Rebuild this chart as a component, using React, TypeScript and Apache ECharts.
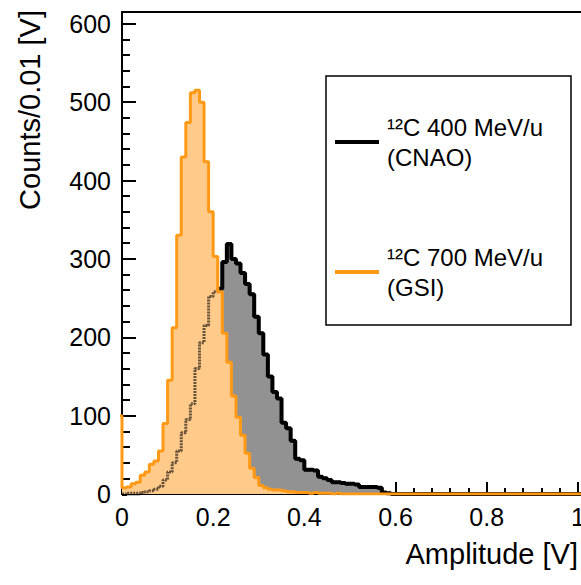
import React, { useEffect, useRef } from "react";
import * as echarts from "echarts";

// ---- data (histograms, bin width 0.01 V) ----
const BIN_WIDTH = 0.01;

// CNAO, 12C 400 MeV/u, bins starting at 0.00 V
const CNAO_FIRST_EDGE = 0;
const CNAO_COUNTS = [
  0, 1, 1, 1, 2, 3, 4, 6, 10, 18, // 0.00-0.09
  28, 40, 55, 78, 95, 115, 160, 193, 215, 252, // 0.10-0.19
  258, 262, 296, 319, 300, 294, 282, 268, 255, 226, // 0.20-0.29
  205, 178, 150, 130, 122, 91, 84, 68, 45, 43, // 0.30-0.39
  31, 31, 30, 22, 20, 18, 15, 15, 14, 13, // 0.40-0.49
  13, 12, 9, 9, 9, 9, 8, 2, 1, 0, // 0.50-0.59
  0, 0, 0, 0, 0, 0, 0, 0, 0, 0, // 0.60-0.69
  0, 0, 0, 0, 0, 0, 0, 0, 0, 0, // 0.70-0.79
  0, 0, 0, 0, 0, 0, 0, 0, 0, 0, // 0.80-0.89
  0, 0, 0, 0, 0, 0, 0, 0, 0, 0, // 0.90-0.99
  0, 0, 0, 0, 0, 0, 0, 0, 0, 0, // 1.00-1.09
  0, 0, 0, 0, 0, 0, 0, 0, 0, 0, // 1.10-1.19
];

// GSI, 12C 700 MeV/u, bins starting at -0.01 V
const GSI_FIRST_EDGE = -0.01;
const GSI_COUNTS = [
  100, // -0.01-0.00
  8, 9, 13, 15, 24, 28, 38, 42, 55, 90, // 0.00-0.09
  145, 212, 330, 430, 474, 512, 515, 500, 424, 360, // 0.10-0.19
  303, 258, 205, 168, 125, 98, 75, 52, 33, 21, // 0.20-0.29
  11, 8, 6, 5, 5, 4, 3, 3, 2, 2, // 0.30-0.39
  2, 1, 2, 1, 1, 1, 0, 1, 0, 0, // 0.40-0.49
  0, 0, 0, 0, 0, 0, 0, 0, 0, 0, // 0.50-0.59
  0, 0, 0, 0, 0, 0, 0, 0, 0, 0, // 0.60-0.69
  0, 0, 0, 0, 0, 0, 0, 0, 0, 0, // 0.70-0.79
  0, 0, 0, 0, 0, 0, 0, 0, 0, 0, // 0.80-0.89
  0, 0, 0, 0, 0, 0, 0, 0, 0, 0, // 0.90-0.99
  0, 0, 0, 0, 0, 0, 0, 0, 0, 0, // 1.00-1.09
  0, 0, 0, 0, 0, 0, 0, 0, 0, 0, // 1.10-1.19
];

const SERIES_NAMES = ["CNAO", "GSI"];
const CNAO_OVERLAY_NAME = "CNAO outline";
const GSI_FILL_NAME = "GSI fill";
const LEGEND_LABELS: Record<string, string> = {
  CNAO: "¹²C 400 MeV/u\n(CNAO)",
  GSI: "¹²C 700 MeV/u\n(GSI)",
};
const X_TITLE = "Amplitude [V]";
const Y_TITLE = "Counts/0.01 [V]";

const X_MIN = 0;
const X_MAX = 1.2;
const X_INTERVAL = 0.2;
const Y_MIN = 0;
const Y_MAX = 615;
const Y_INTERVAL = 100;
const Y_MINOR_INTERVAL = 20;

// ---- styles ----
const ORANGE = "#ff9916";
const ORANGE_FILL = "#ffca8a";
const GRAY_FILL = "#929292";
const FONT = "'Liberation Sans', Arial, Helvetica, sans-serif";

function toSteps(firstEdge: number, counts: number[]) {
  const pts = counts.map((c, i) => [
    Math.round((firstEdge + i * BIN_WIDTH) * 10000) / 10000,
    c,
  ]);
  pts.push([
    Math.round((firstEdge + counts.length * BIN_WIDTH) * 10000) / 10000,
    counts[counts.length - 1],
  ]);
  return pts;
}

export default function App() {
  const ref = useRef<HTMLDivElement>(null);

  useEffect(() => {
    if (!ref.current) return;
    const chart = echarts.init(ref.current, null, { renderer: "svg" });
    const cnaoData = toSteps(CNAO_FIRST_EDGE, CNAO_COUNTS);
    const gsiData = toSteps(GSI_FIRST_EDGE, GSI_COUNTS);

    const option: any = {
      animation: false,
      backgroundColor: "#ffffff",
      grid: {
        left: 122,
        top: 12,
        width: 547,
        height: 482,
        outerBoundsMode: "none",
        containLabel: false,
        show: true,
        borderColor: "#000",
        borderWidth: 2,
        backgroundColor: "transparent",
      },
      xAxis: {
        type: "value",
        min: X_MIN,
        max: X_MAX,
        interval: X_INTERVAL,
        position: "bottom",
        axisLine: { show: true, onZero: false, lineStyle: { color: "#000", width: 2 } },
        axisTick: { show: true, inside: true, length: 12, lineStyle: { color: "#000", width: 2 } },
        minorTick: { show: true, splitNumber: 5, length: 6, lineStyle: { color: "#000", width: 2 } },
        axisLabel: {
          fontSize: 25,
          fontFamily: FONT,
          color: "#000",
          margin: 10,
          formatter: (v: number) => String(Math.round(v * 100) / 100),
        },
        splitLine: { show: false },
        minorSplitLine: { show: false },
      },
      yAxis: [
        {
          type: "value",
          min: Y_MIN,
          max: Y_MAX,
          interval: Y_INTERVAL,
          position: "left",
          axisLine: { show: true, onZero: false, lineStyle: { color: "#000", width: 2 } },
          axisTick: { show: true, inside: true, length: 14, lineStyle: { color: "#000", width: 2 } },
          axisLabel: {
            fontSize: 25,
            fontFamily: FONT,
            color: "#000",
            margin: 11,
            showMaxLabel: false,
          },
          splitLine: { show: false },
        },
        {
          type: "value",
          min: Y_MIN,
          max: Y_MAX,
          interval: Y_MINOR_INTERVAL,
          position: "left",
          axisLine: { show: false },
          axisTick: { show: true, inside: true, length: 8, lineStyle: { color: "#000", width: 2 } },
          axisLabel: { show: false },
          splitLine: { show: false },
        },
      ],
      legend: {
        orient: "vertical",
        left: 335,
        top: 112,
        padding: 0,
        itemWidth: 44,
        itemHeight: 4,
        itemGap: 70,
        icon: "rect",
        selectedMode: false,
        data: SERIES_NAMES,
        formatter: (n: string) => LEGEND_LABELS[n],
        textStyle: {
          fontSize: 24,
          lineHeight: 30,
          fontFamily: FONT,
          color: "#000",
          padding: [0, 0, 0, 3],
        },
        z: 6,
      },
      graphic: [
        {
          type: "rect",
          z: 4,
          shape: { x: 326, y: 76, width: 245, height: 249 },
          style: { fill: "#fff", stroke: "#000", lineWidth: 1.5 },
        },
        {
          type: "text",
          x: 30,
          y: 10,
          rotation: Math.PI / 2,
          style: {
            text: Y_TITLE,
            fill: "#000",
            font: `29px ${FONT}`,
            align: "right",
            textAlign: "right",
            verticalAlign: "middle",
            textVerticalAlign: "middle",
          },
        },
        {
          type: "text",
          x: 578,
          y: 554,
          style: {
            text: X_TITLE,
            fill: "#000",
            font: `29px ${FONT}`,
            align: "right",
            textAlign: "right",
            verticalAlign: "middle",
            textVerticalAlign: "middle",
          },
        },
      ],
      series: [
        {
          // CNAO histogram: gray fill + solid black outline
          type: "line",
          name: SERIES_NAMES[0],
          data: cnaoData,
          step: "end",
          symbol: "none",
          color: "#000",
          lineStyle: { color: "#000", width: 4 },
          areaStyle: { color: GRAY_FILL, opacity: 1, origin: "start" },
          z: 2,
          silent: true,
        },
        {
          // GSI histogram fill (covers the CNAO fill)
          type: "line",
          name: GSI_FILL_NAME,
          data: gsiData,
          step: "end",
          symbol: "none",
          color: ORANGE,
          lineStyle: { width: 0, opacity: 0 },
          areaStyle: { color: ORANGE_FILL, opacity: 1, origin: "start" },
          z: 3,
          silent: true,
        },
        {
          // CNAO outline seen through the GSI fill
          type: "line",
          name: CNAO_OVERLAY_NAME,
          data: cnaoData,
          step: "end",
          symbol: "none",
          color: "#000",
          lineStyle: { color: "#000", width: 3, opacity: 0.6, type: [2, 1] },
          z: 4,
          silent: true,
        },
        {
          // GSI outline on top
          type: "line",
          name: SERIES_NAMES[1],
          data: gsiData,
          step: "end",
          symbol: "none",
          color: ORANGE,
          lineStyle: { color: ORANGE, width: 3 },
          z: 5,
          silent: true,
        },
      ],
    };
    chart.setOption(option);
    return () => chart.dispose();
  }, []);

  return (
    <div
      ref={ref}
      style={{ position: "absolute", left: 0, top: 0, width: 581, height: 585, background: "#fff" }}
    />
  );
}
